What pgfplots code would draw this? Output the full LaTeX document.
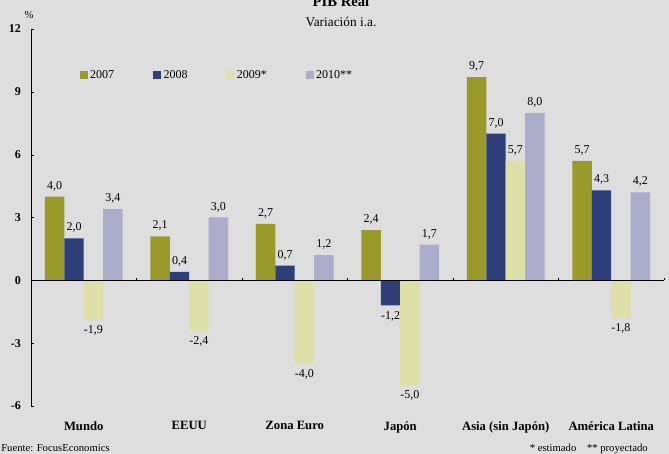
\documentclass[border=0pt]{standalone}
\usepackage{pgfplots}
\usepackage{pgfplotstable}
\usepackage{fontspec}
\setmainfont{Liberation Serif}
\pgfplotsset{compat=1.18}
\definecolor{bg}{RGB}{222,222,222}
\definecolor{c07}{RGB}{154,154,42}
\definecolor{c08}{RGB}{46,62,120}
\definecolor{c09}{RGB}{222,224,168}
\definecolor{c10}{RGB}{172,172,203}
\pgfplotstableread{
x y07 y08 y09 y10
0 4.0 2.0 -1.9 3.4
1 2.1 0.4 -2.4 3.0
2 2.7 0.7 -4.0 1.2
3 2.4 -1.2 -5.0 1.7
4 9.7 7.0 5.7 8.0
5 5.7 4.3 -1.8 4.2
}\gdp
\begin{document}
\begin{tikzpicture}[x=0.75pt,y=0.75pt]
\useasboundingbox (0,0) rectangle (669,454);
\clip (0,0) rectangle (669,454);
\fill[bg] (0,0) rectangle (669,454);
\node[font=\bfseries\fontsize{11}{13}\selectfont, anchor=base] at (341,447) {PIB Real};
\node[font=\fontsize{10}{12}\selectfont, anchor=base] at (341,427) {Variación i.a.};
\node[font=\fontsize{8}{10}\selectfont] at (29,439) {\%};
\node[font=\fontsize{8}{10}\selectfont, anchor=base west, inner sep=0pt] at (1,2) {Fuente: FocusEconomics};
\node[font=\fontsize{8}{10}\selectfont, anchor=base east, inner sep=0pt] at (648,2) {* estimado\quad ** proyectado};
\begin{axis}[
  at={(23.25pt,36pt)}, anchor=south west,
  scale only axis, width=474.75pt, height=282.75pt,
  xmin=-0.5, xmax=5.5, ymin=-6, ymax=12,
  axis lines=left,
  axis line style={-, black},
  x axis line style={draw=none},
  ytick={-6,-3,0,3,6,9,12},
  yticklabels={-6,-3,0,3,6,9,12},
  yticklabel style={font=\bfseries\fontsize{9}{11}\selectfont, xshift=-4pt},
  y tick style={black},
  tick align=inside,
  major tick length=2pt,
  xtick={0,1,2,3,4,5},
  xticklabels={Mundo,EEUU,Zona Euro,Japón,Asia (sin Japón),América Latina},
  xticklabel style={font=\bfseries\fontsize{9.5}{11}\selectfont, yshift=-6pt},
  x tick style={draw=none},
  ybar=0pt, bar width=14.6pt,
  nodes near coords,
  every node near coord/.append style={font=\fontsize{9}{11}\selectfont, inner sep=4pt,
    /pgf/number format/.cd, fixed, fixed zerofill, precision=1, use comma, assume math mode=true},
  legend columns=4,
  legend style={draw=none, fill=none, at={(0.07,0.877)}, anchor=west,
    font=\fontsize{9}{11}\selectfont,
    /tikz/every even column/.append style={column sep=27pt}},
  legend image code/.code={\fill[#1] (0pt,-3pt) rectangle (6pt,3pt);},
  clip=false,
]
\addplot[fill=c07, draw=none] table[x=x,y=y07]{\gdp};
\addplot[fill=c08, draw=none] table[x=x,y=y08]{\gdp};
\addplot[fill=c09, draw=none] table[x=x,y=y09]{\gdp};
\addplot[fill=c10, draw=none] table[x=x,y=y10]{\gdp};
\legend{2007,2008,2009*,2010**}
\draw[black, thin] (axis cs:-0.5,0) -- (axis cs:5.5,0);
\draw[black] (axis cs:0.5,0) -- ++(0pt,2pt);
\draw[black] (axis cs:1.5,0) -- ++(0pt,2pt);
\draw[black] (axis cs:2.5,0) -- ++(0pt,2pt);
\draw[black] (axis cs:3.5,0) -- ++(0pt,2pt);
\draw[black] (axis cs:4.5,0) -- ++(0pt,2pt);
\draw[black] (axis cs:5.5,0) -- ++(0pt,2pt);
\end{axis}
\end{tikzpicture}
\end{document}
